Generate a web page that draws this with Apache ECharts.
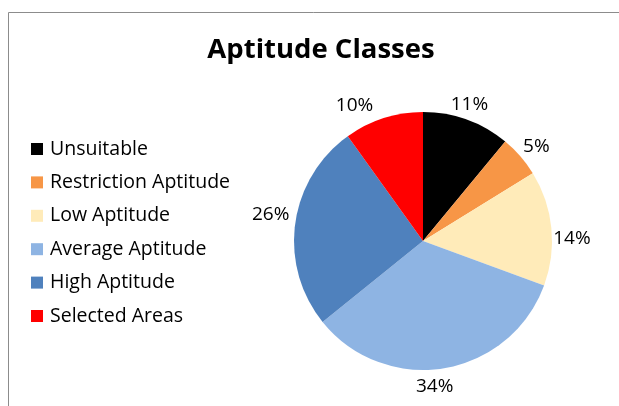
<!DOCTYPE html>
<html>
<head>
<meta charset="utf-8">
<script src="https://cdn.jsdelivr.net/npm/echarts@6/dist/echarts.min.js"></script>
<style>html,body{margin:0;padding:0;background:#fff}#c{width:619px;height:406px}</style>
</head>
<body>
<div id="c"></div>
<script>
const categories = ['Unsuitable', 'Restriction Aptitude', 'Low Aptitude', 'Average Aptitude', 'High Aptitude', 'Selected Areas'];
const values = [11.0, 5.2, 14.4, 33.6, 25.9, 9.9];
const colors = ['#000000', '#F79646', '#FFEBB9', '#8EB4E3', '#4F81BD', '#FF0000'];
const titleText = 'Aptitude Classes';
// small best-fit nudges of the percentage labels (dx, dy), as in the original
const labelNudgeX = [-5, 3, -2, -13, -2, -22];
const labelNudgeY = [-2, -1, 12, 5, -7, 0];

const total = values.reduce((a, b) => a + b, 0);
const CX = 423, CY = 241, R = 129, GAP = 4;
const FONT = "'Open Sans', 'Noto Sans', sans-serif";

const chart = echarts.init(document.getElementById('c'), null, {renderer: 'canvas'});
chart.setOption({
  animation: false,
  backgroundColor: '#ffffff',
  title: {
    text: titleText, left: 316, top: 31, textAlign: 'center',
    textStyle: {fontFamily: FONT, fontSize: 27.5, fontWeight: 'bold', color: '#000'}
  },
  legend: {
    orient: 'vertical', left: 31, top: 138, padding: 0,
    itemWidth: 12, itemHeight: 12, itemGap: 11.4,
    icon: 'rect',
    textStyle: {fontFamily: FONT, fontSize: 19.5, color: '#000', lineHeight: 22, padding: [0, 0, 0, 2]},
    data: categories
  },
  graphic: [
    {type: 'line', shape: {x1: 8.5, y1: 12.5, x2: 619, y2: 12.5}, style: {stroke: '#8c8c8c', lineWidth: 1}},
    {type: 'line', shape: {x1: 8.5, y1: 12.5, x2: 8.5, y2: 406}, style: {stroke: '#8c8c8c', lineWidth: 1}}
  ],
  series: [{
    type: 'pie',
    center: [CX, CY],
    radius: R,
    startAngle: 90,
    clockwise: true,
    label: {
      show: true, position: 'outside',
      fontFamily: FONT, fontSize: 19, color: '#000',
      formatter: p => Math.round(p.percent) + '%'
    },
    labelLine: {show: false, length: 4, length2: 0},
    labelLayout: function (p) {
      const i = p.dataIndex;
      let cum = 0;
      for (let k = 0; k < i; k++) cum += values[k];
      const mid = (cum + values[i] / 2) / total * 2 * Math.PI;
      const ux = Math.sin(mid), uy = -Math.cos(mid);
      const w = p.labelRect.width, h = p.labelRect.height;
      return {
        x: CX + ux * (R + GAP) + ux * w / 2 + labelNudgeX[i],
        y: CY + uy * (R + GAP) + uy * h / 2 + labelNudgeY[i],
        align: 'center', verticalAlign: 'middle'
      };
    },
    itemStyle: {borderWidth: 0},
    emphasis: {disabled: true},
    data: categories.map((n, i) => ({name: n, value: values[i], itemStyle: {color: colors[i]}}))
  }]
});
</script>
</body>
</html>
